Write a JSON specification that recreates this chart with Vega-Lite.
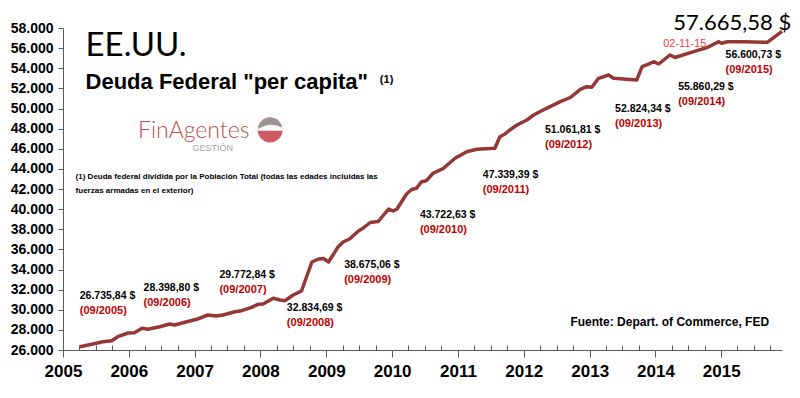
{
  "$schema": "https://vega.github.io/schema/vega-lite/v6.json",
  "width": 719,
  "height": 322,
  "autosize": {"type": "none"},
  "padding": {"left": 63, "top": 28, "right": 18, "bottom": 48},
  "background": "white",
  "config": {
    "view": {"stroke": null},
    "locale": {"number": {"decimal": ",", "thousands": ".", "grouping": [3], "currency": ["", " $"]}}
  },
  "datasets": {
    "serie": [
      {"d":"2005-04-04","v":26328},{"d":"2005-06-16","v":26596},{"d":"2005-08-10","v":26825},{"d":"2005-09-28","v":26924},
      {"d":"2005-11-01","v":27322},{"d":"2005-12-28","v":27689},{"d":"2006-02-01","v":27719},{"d":"2006-03-16","v":28157},
      {"d":"2006-04-16","v":28057},{"d":"2006-06-22","v":28316},{"d":"2006-08-16","v":28584},{"d":"2006-09-13","v":28485},
      {"d":"2006-11-19","v":28812},{"d":"2007-01-13","v":29051},{"d":"2007-03-16","v":29478},{"d":"2007-05-01","v":29379},
      {"d":"2007-06-07","v":29478},{"d":"2007-08-13","v":29806},{"d":"2007-09-19","v":29906},{"d":"2007-11-13","v":30243},
      {"d":"2007-12-19","v":30541},{"d":"2008-01-16","v":30571},{"d":"2008-03-13","v":31138},{"d":"2008-04-19","v":30969},
      {"d":"2008-05-16","v":30899},{"d":"2008-07-01","v":31466},{"d":"2008-08-16","v":31863},{"d":"2008-10-13","v":34745},
      {"d":"2008-11-19","v":35043},{"d":"2008-12-16","v":35093},{"d":"2009-01-13","v":34745},{"d":"2009-03-07","v":36236},
      {"d":"2009-04-04","v":36733},{"d":"2009-05-10","v":37031},{"d":"2009-06-28","v":37826},{"d":"2009-07-25","v":38124},
      {"d":"2009-09-01","v":38671},{"d":"2009-10-16","v":38770},{"d":"2009-11-10","v":39317},{"d":"2009-12-13","v":40013},
      {"d":"2010-01-07","v":39814},{"d":"2010-01-28","v":40013},{"d":"2010-03-22","v":41503},{"d":"2010-04-19","v":41950},
      {"d":"2010-05-16","v":42070},{"d":"2010-06-13","v":42726},{"d":"2010-07-10","v":42825},{"d":"2010-08-16","v":43561},
      {"d":"2010-10-13","v":44057},{"d":"2010-12-16","v":45051},{"d":"2011-02-19","v":45707},{"d":"2011-04-16","v":45946},
      {"d":"2011-07-25","v":46045},{"d":"2011-08-22","v":47198},{"d":"2011-09-19","v":47466},{"d":"2011-10-16","v":47864},
      {"d":"2011-11-25","v":48361},{"d":"2012-01-19","v":48857},{"d":"2012-02-25","v":49354},{"d":"2012-05-07","v":50020},
      {"d":"2012-07-22","v":50676},{"d":"2012-09-16","v":51094},{"d":"2012-11-10","v":51909},{"d":"2012-12-16","v":52167},
      {"d":"2013-01-13","v":52107},{"d":"2013-02-19","v":53002},{"d":"2013-04-16","v":53330},{"d":"2013-05-13","v":53002},
      {"d":"2013-07-25","v":52902},{"d":"2013-09-19","v":52833},{"d":"2013-10-19","v":54155},{"d":"2013-12-04","v":54492},
      {"d":"2013-12-22","v":54651},{"d":"2014-01-19","v":54423},{"d":"2014-03-22","v":55317},{"d":"2014-04-19","v":55069},
      {"d":"2014-08-01","v":55645},{"d":"2014-10-13","v":56043},{"d":"2014-12-16","v":56639},{"d":"2015-01-04","v":56480},
      {"d":"2015-02-04","v":56639},{"d":"2015-05-04","v":56639},{"d":"2015-09-13","v":56579},{"d":"2015-12-04","v":57665}
    ],
    "notas": [
      {"d":"2005-04-04","v":31367,"valor":"26.735,84 $","periodo":"(09/2005)"},
      {"d":"2006-03-24","v":32162,"valor":"28.398,80 $","periodo":"(09/2006)"},
      {"d":"2007-05-19","v":33454,"valor":"29.772,84 $","periodo":"(09/2007)"},
      {"d":"2008-05-27","v":30174,"valor":"32.834,69 $","periodo":"(09/2008)"},
      {"d":"2009-04-10","v":34447,"valor":"38.675,06 $","periodo":"(09/2009)"},
      {"d":"2010-06-04","v":39416,"valor":"43.722,63 $","periodo":"(09/2010)"},
      {"d":"2011-05-19","v":43392,"valor":"47.339,39 $","periodo":"(09/2011)"},
      {"d":"2012-04-28","v":47864,"valor":"51.061,81 $","periodo":"(09/2012)"},
      {"d":"2013-05-22","v":49951,"valor":"52.824,34 $","periodo":"(09/2013)"},
      {"d":"2014-05-07","v":52137,"valor":"55.860,29 $","periodo":"(09/2014)"},
      {"d":"2015-01-25","v":55317,"valor":"56.600,73 $","periodo":"(09/2015)"}
    ]
  },
  "encoding": {
    "x": {"field": "d", "type": "temporal",
      "scale": {"domain": [{"year":2005,"month":1,"date":1},{"year":2015,"month":12,"date":4}]},
      "axis": {"title": null, "grid": false, "tickCount": {"interval": "month", "step": 3},
        "labelExpr": "month(datum.value) == 0 ? timeFormat(datum.value, '%Y') : ''",
        "labelFlush": false, "labelOverlap": false,
        "labelFont": "Liberation Sans", "labelFontWeight": "bold", "labelFontSize": 17, "labelColor": "#000000",
        "labelPadding": 6,
        "tickSize": {"condition": {"test": "month(datum.value) == 0", "value": 7}, "value": -5},
        "tickColor": "#595959", "domainColor": "#595959", "domainWidth": 1}},
    "y": {"field": "v", "type": "quantitative",
      "scale": {"domain": [26000, 58000], "nice": false, "zero": false},
      "axis": {"title": null, "grid": false, "format": ",.0f",
        "values": [26000,28000,30000,32000,34000,36000,38000,40000,42000,44000,46000,48000,50000,52000,54000,56000,58000],
        "labelFont": "Liberation Sans", "labelFontWeight": "bold", "labelFontSize": 14, "labelColor": "#000000",
        "labelPadding": 5, "tickSize": 5, "tickColor": "#595959", "domainColor": "#595959"}}
  },
  "layer": [
    {"data": {"name": "serie"}, "mark": {"type": "line", "color": "#953735", "strokeWidth": 3.5, "strokeJoin": "round"}},
    {"data": {"name": "notas"}, "mark": {"type": "text", "align": "left", "baseline": "middle", "font": "Liberation Sans", "fontWeight": "bold", "fontSize": 10.5, "color": "#000000"},
      "encoding": {"text": {"field": "valor"}}},
    {"data": {"name": "notas"}, "mark": {"type": "text", "align": "left", "baseline": "middle", "dy": 15, "font": "Liberation Sans", "fontWeight": "bold", "fontSize": 11, "color": "#c00000"},
      "encoding": {"text": {"field": "periodo"}}},
    {"data": {"values": [{"d":"2005-05-06","v":56212,"t":"EE.UU."}]},
      "mark": {"type": "text", "align": "left", "baseline": "middle", "font": "Lato", "fontSize": 33, "color": "#000000"},
      "encoding": {"text": {"field": "t"}}},
    {"data": {"values": [{"d":"2005-05-06","v":52634,"t":"Deuda Federal \"per capita\""}]},
      "mark": {"type": "text", "align": "left", "baseline": "middle", "font": "Liberation Sans", "fontWeight": "bold", "fontSize": 22, "color": "#000000"},
      "encoding": {"text": {"field": "t"}}},
    {"data": {"values": [{"d":"2009-10-25","v":52833,"t":"(1)"}]},
      "mark": {"type": "text", "align": "left", "baseline": "middle", "font": "Liberation Sans", "fontWeight": "bold", "fontSize": 11, "color": "#000000"},
      "encoding": {"text": {"field": "t"}}},
    {"data": {"values": [{"d":"2006-02-21","v":47764,"t":"FinAgentes"}]},
      "mark": {"type": "text", "align": "left", "baseline": "middle", "font": "Lato", "fontWeight": 300, "fontSize": 23, "color": "#c0504d"},
      "encoding": {"text": {"field": "t"}}},
    {"data": {"values": [{"d":"2006-12-21","v":46075,"t":"GESTIÓN"}]},
      "mark": {"type": "text", "align": "left", "baseline": "middle", "font": "Liberation Sans", "fontSize": 9, "color": "#a6a6a6"},
      "encoding": {"text": {"field": "t"}}},
    {"data": {"values": [{"d":"2008-02-24","v":47864}]},
      "mark": {"type": "point", "shape": "circle", "filled": true, "size": 620, "color": "#d05a64", "opacity": 1}},
    {"data": {"values": [{"d":"2008-02-24","v":47864}]},
      "mark": {"type": "point", "shape": "M -1 0.05 A 1 1 0 0 1 1 0.05 Z", "filled": true, "size": 640, "color": "#ffffff", "opacity": 1}},
    {"data": {"values": [{"d":"2008-02-24","v":47864}]},
      "mark": {"type": "point", "shape": "M -0.97 -0.1 A 0.98 0.98 0 0 1 0.97 -0.2 Q 0.3 -0.55 -0.4 -0.35 Q -0.8 -0.2 -0.97 -0.1 Z", "filled": true, "size": 620, "color": "#9a9590", "opacity": 1}},
    {"data": {"values": [{"d":"2005-03-12","v":43193,"t":"(1) Deuda federal dividida por  la Población Total (todas las edades incluidas las"},{"d":"2005-03-12","v":41802,"t":"fuerzas armadas en el exterior)"}]},
      "mark": {"type": "text", "align": "left", "baseline": "middle", "font": "Liberation Sans", "fontWeight": "bold", "fontSize": 8, "color": "#000000"},
      "encoding": {"text": {"field": "t"}}},
    {"data": {"values": [{"d":"2012-09-16","v":28783,"t":"Fuente: Depart. of Commerce, FED"}]},
      "mark": {"type": "text", "align": "left", "baseline": "middle", "font": "Liberation Sans", "fontWeight": "bold", "fontSize": 12, "color": "#000000"},
      "encoding": {"text": {"field": "t"}}},
    {"data": {"values": [{"d":"2014-04-10","v":58497,"t":"57.665,58 $"}]},
      "mark": {"type": "text", "align": "left", "baseline": "middle", "font": "Lato", "fontSize": 22, "color": "#000000"},
      "encoding": {"text": {"field": "t"}}},
    {"data": {"values": [{"d":"2014-02-13","v":56410,"t":"02-11-15"}]},
      "mark": {"type": "text", "align": "left", "baseline": "middle", "font": "Liberation Sans", "fontSize": 11, "color": "#ff3b3b"},
      "encoding": {"text": {"field": "t"}}}
  ]
}
